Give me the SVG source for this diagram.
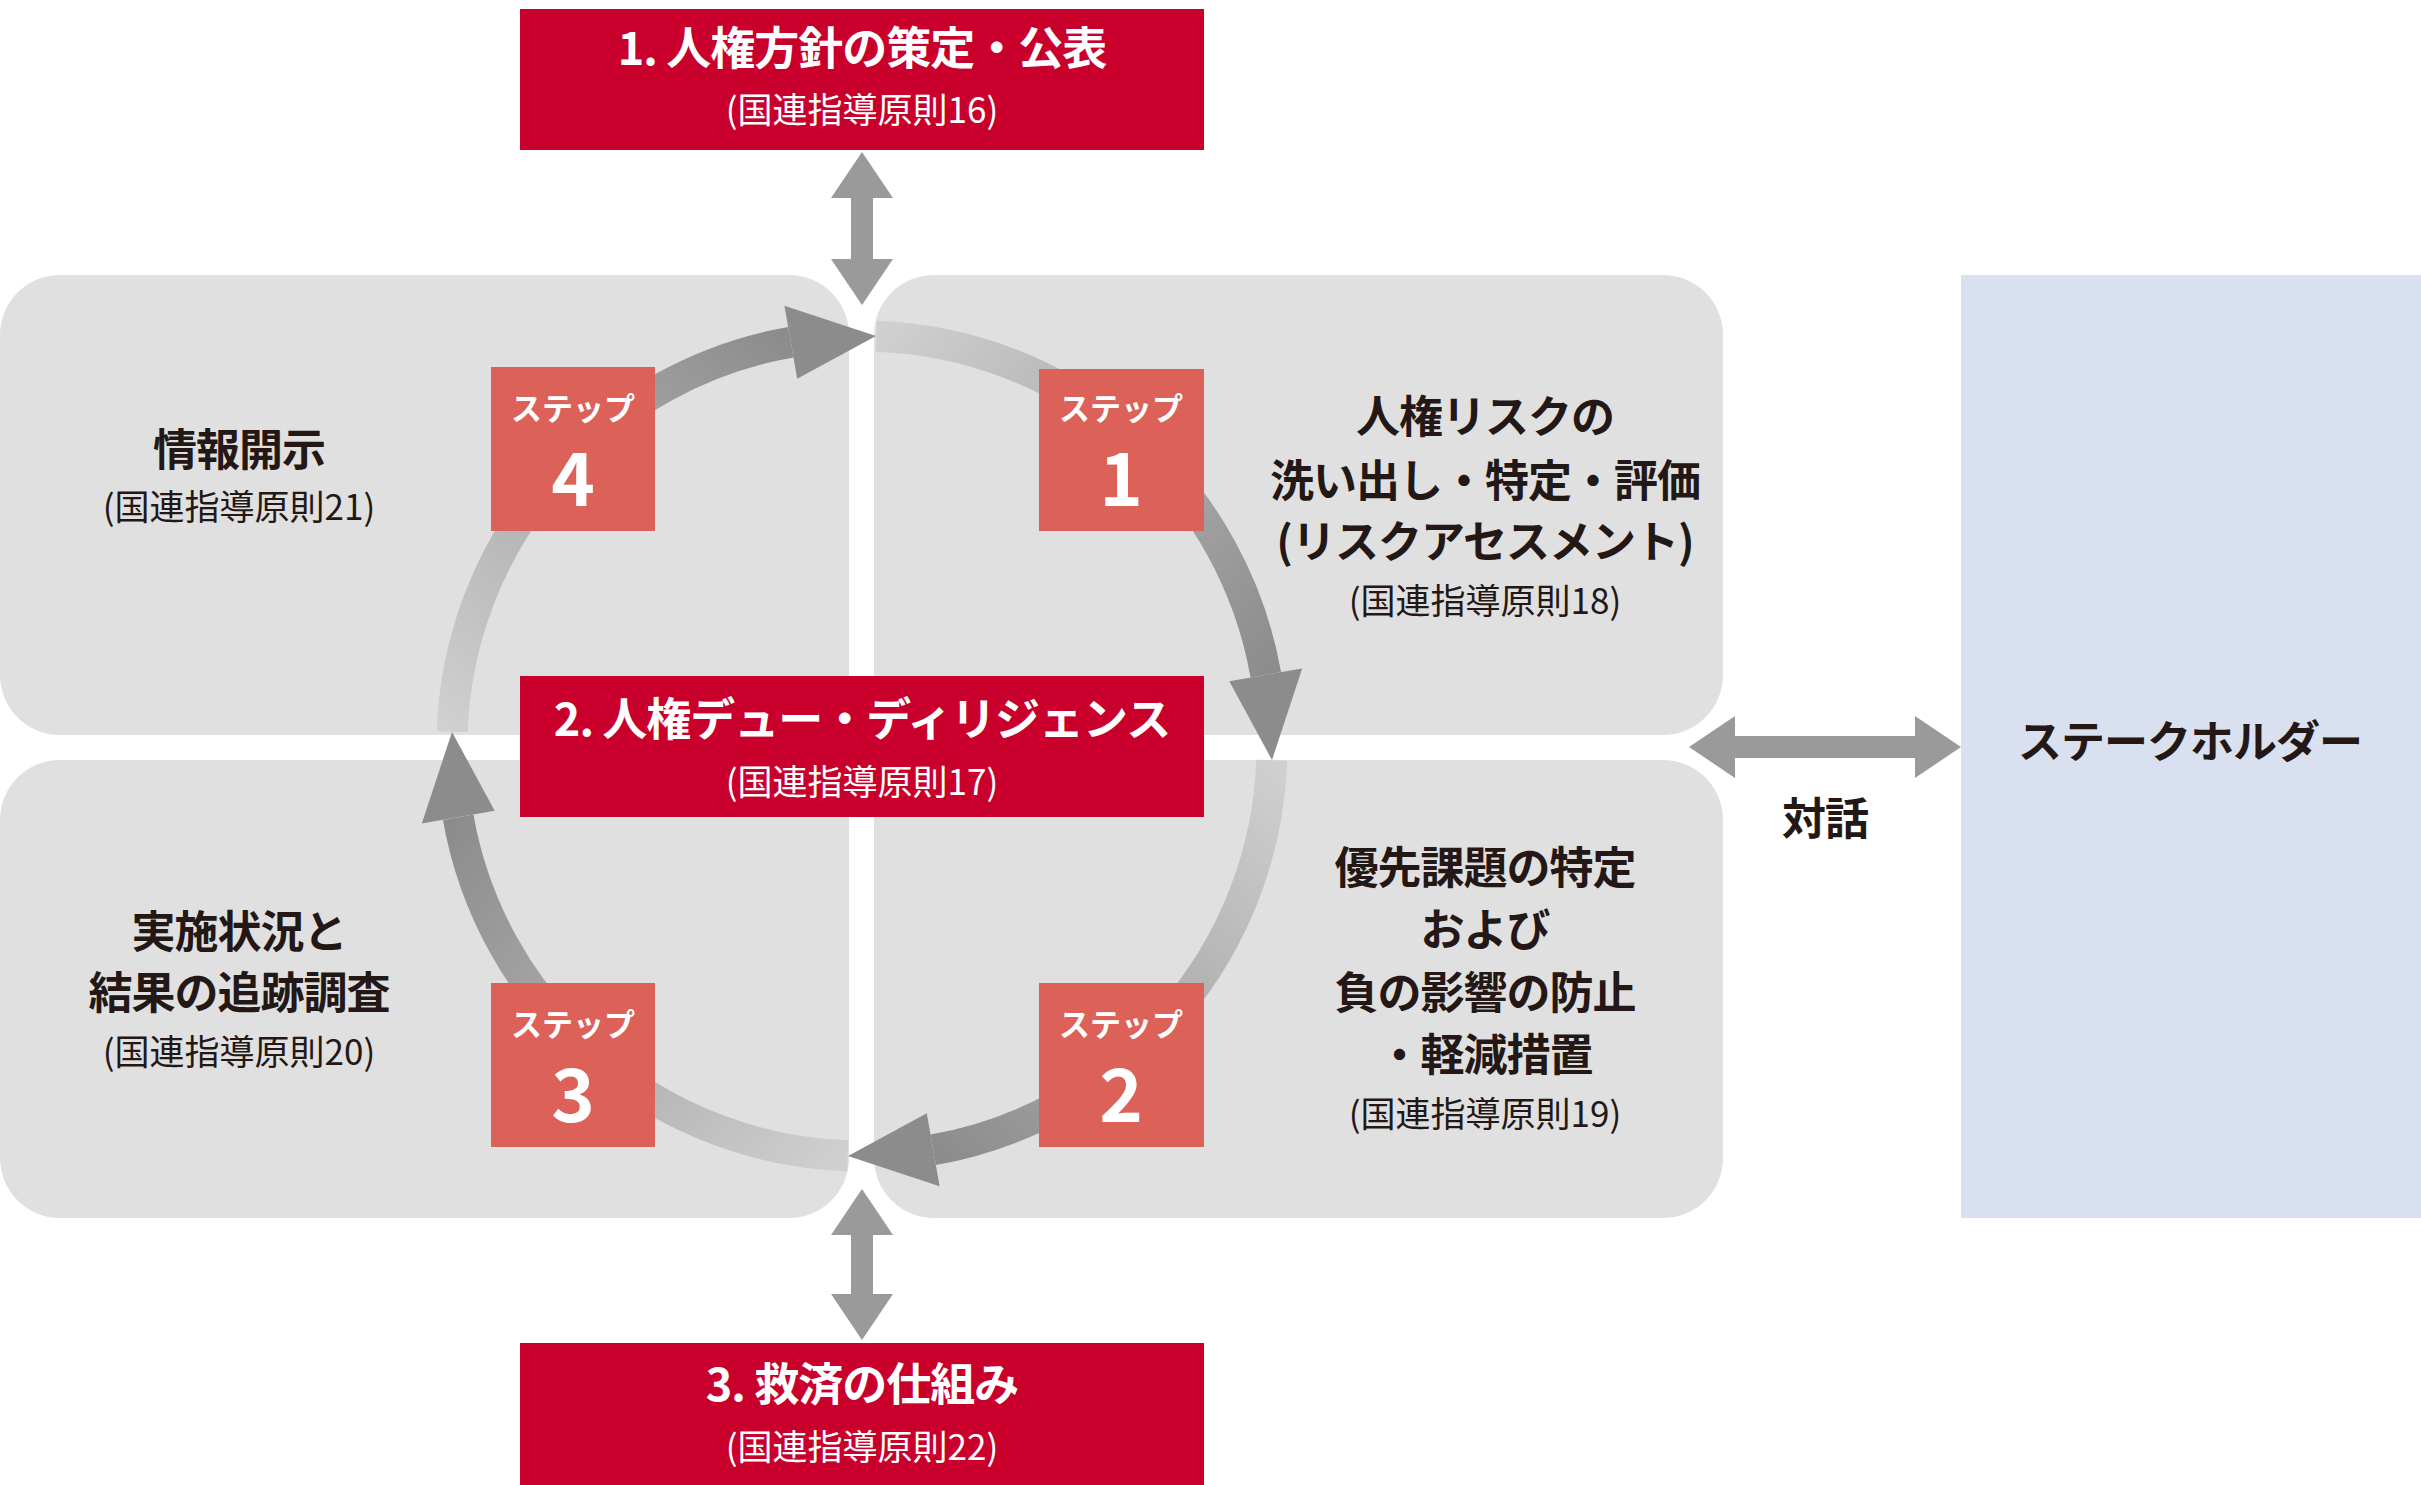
<svg xmlns="http://www.w3.org/2000/svg" width="2421" height="1485" viewBox="0 0 2421 1485">
<style>
text{font-family:"Noto Sans CJK JP","Noto Sans",sans-serif;text-anchor:middle}
.h{font-size:45px;font-weight:bold;fill:#fff;letter-spacing:-1px}
.hs{font-size:35px;fill:#fff}
.b{font-size:44px;font-weight:bold;fill:#231815;letter-spacing:-1px}
.n{font-size:35px;fill:#231815}
.panel{fill:#e0e0e0}
.red{fill:#c9002b}
.step{fill:#dc6259}
.sl{font-size:31px;font-weight:bold;fill:#fff}
.sn{font-size:74px;font-weight:bold;fill:#fff}
.arc{fill:none;stroke-width:31}
.dbl{fill:#9a9a9a}
.head{fill:#8c8c8c}
</style>
<defs>
<linearGradient id="g1" gradientUnits="userSpaceOnUse" x1="876" y1="336" x2="1266" y2="675"><stop offset="0" stop-color="#d0d0d0"/><stop offset="1" stop-color="#8c8c8c"/></linearGradient>
<linearGradient id="g2" gradientUnits="userSpaceOnUse" x1="1272" y1="760" x2="933" y2="1150"><stop offset="0" stop-color="#d0d0d0"/><stop offset="1" stop-color="#8c8c8c"/></linearGradient>
<linearGradient id="g3" gradientUnits="userSpaceOnUse" x1="848" y1="1156" x2="458" y2="817"><stop offset="0" stop-color="#d0d0d0"/><stop offset="1" stop-color="#8c8c8c"/></linearGradient>
<linearGradient id="g4" gradientUnits="userSpaceOnUse" x1="452" y1="732" x2="791" y2="342"><stop offset="0" stop-color="#d0d0d0"/><stop offset="1" stop-color="#8c8c8c"/></linearGradient>
</defs>
<g id="panels">
<rect class="panel" x="0" y="275" width="849" height="460" rx="60"/>
<rect class="panel" x="874" y="275" width="849" height="460" rx="60"/>
<rect class="panel" x="0" y="760" width="849" height="458" rx="60"/>
<rect class="panel" x="874" y="760" width="849" height="458" rx="60"/>
</g>
<g id="stakeholder">
<rect x="1961" y="275" width="460" height="943" fill="#d9e1f0"/>
<text class="b" x="2190" y="758">ステークホルダー</text>
</g>
<g id="connectors">
<path class="arc" stroke="url(#g1)" d="M876.3,336.2 A410,410 0 0 1 1265.8,674.8"/>
<polygon class="head" points="1229.3,681.2 1302.2,668.4 1272,760"/>
<path class="arc" stroke="url(#g2)" d="M1271.8,760.3 A410,410 0 0 1 933.2,1149.8"/>
<polygon class="head" points="926.8,1113.3 939.6,1186.2 848,1156"/>
<path class="arc" stroke="url(#g3)" d="M847.7,1155.8 A410,410 0 0 1 458.2,817.2"/>
<polygon class="head" points="494.7,810.8 421.8,823.6 452,732"/>
<path class="arc" stroke="url(#g4)" d="M452.2,731.7 A410,410 0 0 1 790.8,342.2"/>
<polygon class="head" points="797.2,378.7 784.4,305.8 876,336"/>
<polygon class="dbl" points="862,152 893,198 873,198 873,259 893,259 862,305 831,259 851,259 851,198 831,198"/>
<polygon class="dbl" points="862,1189 893,1235 873,1235 873,1294 893,1294 862,1340 831,1294 851,1294 851,1235 831,1235"/>
<polygon class="dbl" points="1689,747 1735,716 1735,736 1915,736 1915,716 1961,747 1915,778 1915,758 1735,758 1735,778"/>
<text class="b" x="1825" y="835">対話</text>
</g>
<g id="n1"><rect class="red" x="520" y="9" width="684" height="141"/>
<text class="h" x="862" y="65">1. 人権方針の策定・公表</text><text class="hs" x="862" y="123">(国連指導原則16)</text></g>
<g id="n2"><rect class="red" x="520" y="676" width="684" height="141"/>
<text class="h" x="862" y="736">2. 人権デュー・ディリジェンス</text><text class="hs" x="862" y="795">(国連指導原則17)</text></g>
<g id="n3"><rect class="red" x="520" y="1343" width="684" height="142"/>
<text class="h" x="862" y="1401">3. 救済の仕組み</text><text class="hs" x="862" y="1460">(国連指導原則22)</text></g>
<g id="s4"><rect class="step" x="491" y="367" width="164" height="164"/><text class="sl" x="573" y="420">ステップ</text><text class="sn" x="573" y="506">4</text></g>
<g id="s1"><rect class="step" x="1039" y="369" width="165" height="162"/><text class="sl" x="1121" y="420">ステップ</text><text class="sn" x="1121" y="506">1</text></g>
<g id="s3"><rect class="step" x="491" y="983" width="164" height="164"/><text class="sl" x="573" y="1036">ステップ</text><text class="sn" x="573" y="1122">3</text></g>
<g id="s2"><rect class="step" x="1039" y="983" width="165" height="164"/><text class="sl" x="1121" y="1036">ステップ</text><text class="sn" x="1121" y="1122">2</text></g>
<g id="t4"><text class="b" x="239" y="466">情報開示</text><text class="n" x="239" y="520">(国連指導原則21)</text></g>
<g id="t1"><text class="b" x="1485" y="433">人権リスクの</text><text class="b" x="1485" y="497">洗い出し・特定・評価</text><text class="b" x="1485" y="558">(リスクアセスメント)</text><text class="n" x="1485" y="614">(国連指導原則18)</text></g>
<g id="t3"><text class="b" x="239" y="948">実施状況と</text><text class="b" x="239" y="1009">結果の追跡調査</text><text class="n" x="239" y="1065">(国連指導原則20)</text></g>
<g id="t2"><text class="b" x="1485" y="884">優先課題の特定</text><text class="b" x="1485" y="946">および</text><text class="b" x="1485" y="1009">負の影響の防止</text><text class="b" x="1485" y="1071">・軽減措置</text><text class="n" x="1485" y="1127">(国連指導原則19)</text></g>
</svg>
